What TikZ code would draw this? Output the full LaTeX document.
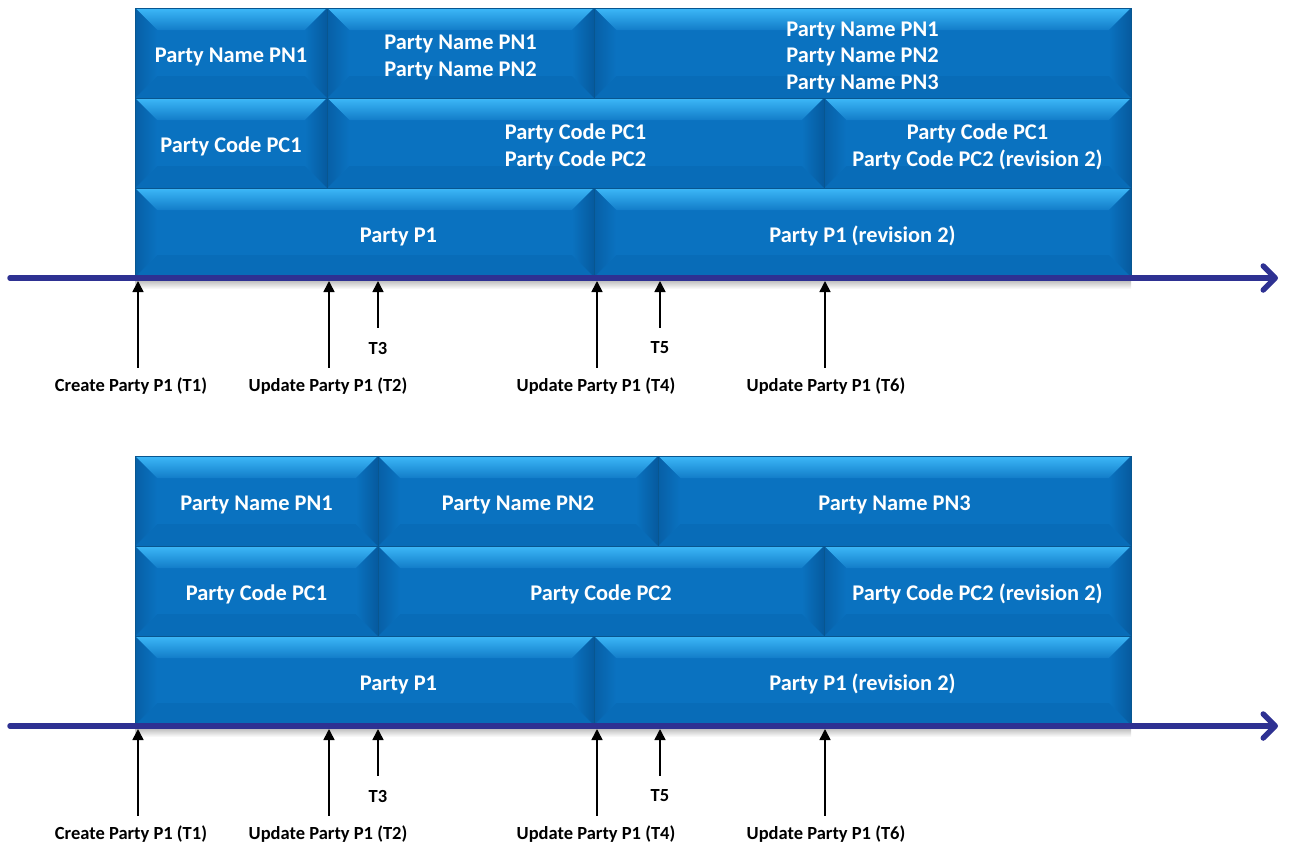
\documentclass[tikz,border=0pt]{standalone}
\usepackage{fontspec}
\setmainfont{Carlito}
\usetikzlibrary{arrows.meta}
\definecolor{face}{HTML}{0A72C0}
\definecolor{hilite}{HTML}{3DB8F8}
\definecolor{sidel}{HTML}{075FA6}
\definecolor{sider}{HTML}{065A9E}
\definecolor{botc}{HTML}{086CB8}
\definecolor{axiscol}{HTML}{2E3192}
\newcommand{\bt}[1]{\raisebox{-4.5pt}[\height][\depth]{\begin{tabular}{@{}c@{}}#1\end{tabular}}}
\tikzset{
  blk/.style 2 args={rectangle, minimum width=#1pt, minimum height=#2pt, inner sep=0pt,
    text=white, font=\bfseries\fontsize{22.4}{26.5}\selectfont,
    path picture={
      \fill[face] (path picture bounding box.south west) rectangle (path picture bounding box.north east);
      \shade[top color=hilite, bottom color=face!85!hilite]
        (path picture bounding box.north west) -- (path picture bounding box.north east)
        -- ([xshift=-22pt,yshift=-22pt]path picture bounding box.north east)
        -- ([xshift=22pt,yshift=-22pt]path picture bounding box.north west) -- cycle;
      \fill[botc]
        (path picture bounding box.south west) -- (path picture bounding box.south east)
        -- ([xshift=-22pt,yshift=22pt]path picture bounding box.south east)
        -- ([xshift=22pt,yshift=22pt]path picture bounding box.south west) -- cycle;
      \shade[left color=sidel, right color=face]
        (path picture bounding box.south west) -- (path picture bounding box.north west)
        -- ([xshift=22pt,yshift=-22pt]path picture bounding box.north west)
        -- ([xshift=22pt,yshift=22pt]path picture bounding box.south west) -- cycle;
      \shade[left color=face, right color=sider]
        (path picture bounding box.south east) -- (path picture bounding box.north east)
        -- ([xshift=-22pt,yshift=-22pt]path picture bounding box.north east)
        -- ([xshift=-22pt,yshift=22pt]path picture bounding box.south east) -- cycle;
    },
    draw=face!75!black, line width=0.5pt},
  axisline/.style={draw=axiscol, line width=5.5pt, line cap=round,
    -{Straight Barb[length=12pt,width=24pt,round]}},
  tick/.style={draw=black, line width=1.6pt, {Triangle[length=11pt,width=11pt]}-},
  lbl/.style={text=black, font=\bfseries\fontsize{18.5}{21}\selectfont, inner sep=0pt},
}
\newcommand{\mytimeline}[1]{%
  \coordinate (#1A0) at (10,278);
  \coordinate (#1A1) at (1278,278);
  \shade[top color=black!30, bottom color=white] (135,279) rectangle (1131,289);
  \draw[axisline] (#1A0) -- (#1A1);
  \foreach \n/\x/\e/\lx/\ly/\t in {
      1/138/368/131/386/{Create Party P1 (T1)},
      2/329/368/328/386/{Update Party P1 (T2)},
      3/378/328/378/348/{T3},
      4/597/368/596/386/{Update Party P1 (T4)},
      5/660/328/660/348/{T5},
      6/825/368/826/386/{Update Party P1 (T6)}}{
    \coordinate (#1T\n) at (\x,281);
    \coordinate (#1E\n) at (\x,\e);
    \node[lbl] (#1L\n) at (\lx,\ly) {\t};
    \draw[tick] (#1T\n) -- (#1E\n);
  }%
}
\begin{document}
\begin{tikzpicture}[x=1pt,y=-1pt]
\useasboundingbox (0,0) rectangle (1291,846);
% ---------- top diagram ----------
\node[blk={192}{90}] (aN1) at (231,53) {\bt{Party Name PN1}};
\node[blk={267}{90}] (aN2) at (460.5,53) {\bt{Party Name PN1\\Party Name PN2}};
\node[blk={537}{90}] (aN3) at (862.5,53) {\bt{Party Name PN1\\Party Name PN2\\Party Name PN3}};
\node[blk={192}{90}] (aC1) at (231,143) {\bt{Party Code PC1}};
\node[blk={497}{90}] (aC2) at (575.5,143) {\bt{Party Code PC1\\Party Code PC2}};
\node[blk={307}{90}] (aC3) at (977.5,143) {\bt{Party Code PC1\\Party Code PC2 (revision 2)}};
\node[blk={459}{89}] (aP1) at (364.5,232.5) {\bt{\hspace*{68pt}Party P1}};
\node[blk={537}{89}] (aP2) at (862.5,232.5) {\bt{Party P1 (revision 2)}};
\mytimeline{a}
% ---------- bottom diagram ----------
\begin{scope}[shift={(0,448)}]
\node[blk={243}{90}] (bN1) at (256.5,53) {\bt{Party Name PN1}};
\node[blk={280}{90}] (bN2) at (518,53) {\bt{Party Name PN2}};
\node[blk={473}{90}] (bN3) at (894.5,53) {\bt{Party Name PN3}};
\node[blk={243}{90}] (bC1) at (256.5,143) {\bt{Party Code PC1}};
\node[blk={446}{90}] (bC2) at (601,143) {\bt{Party Code PC2}};
\node[blk={307}{90}] (bC3) at (977.5,143) {\bt{Party Code PC2 (revision 2)}};
\node[blk={459}{89}] (bP1) at (364.5,232.5) {\bt{\hspace*{68pt}Party P1}};
\node[blk={537}{89}] (bP2) at (862.5,232.5) {\bt{Party P1 (revision 2)}};
\mytimeline{b}
\end{scope}
\end{tikzpicture}
\end{document}
